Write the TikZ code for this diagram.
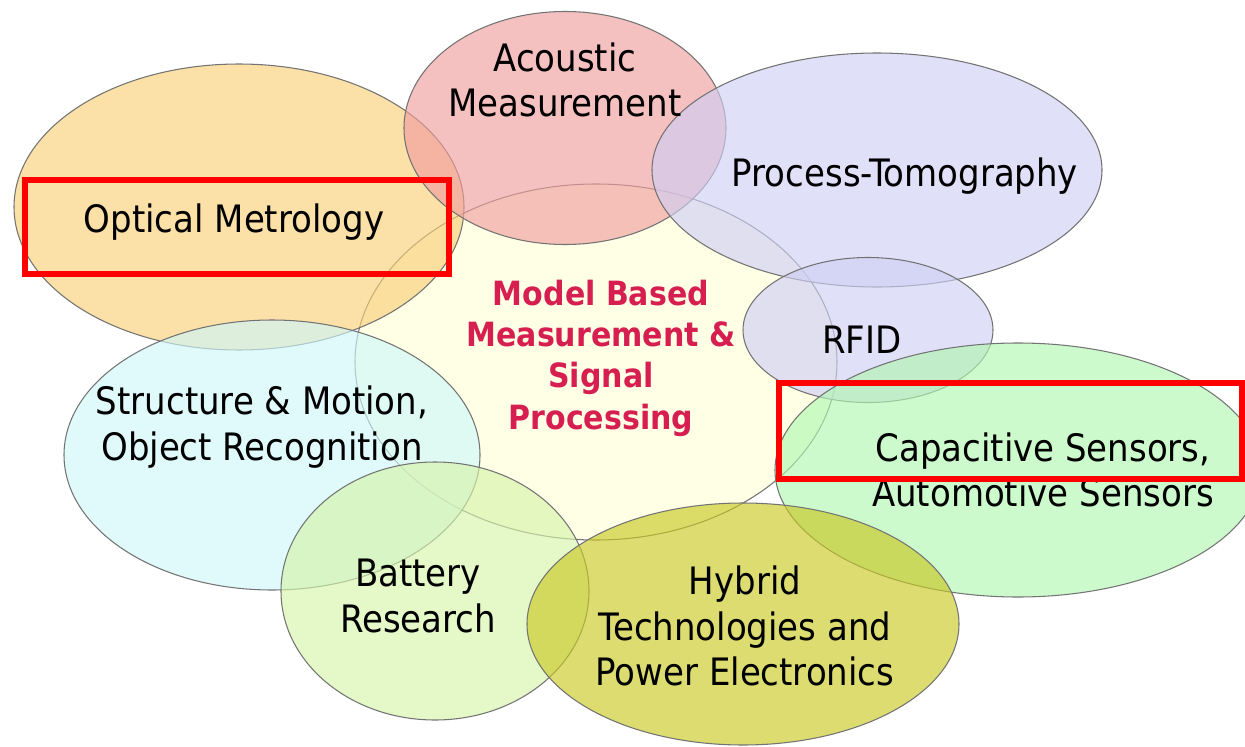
\documentclass[tikz,border=0pt]{standalone}
\usepackage{fontspec}
\setsansfont{DejaVu Sans Condensed}
\usetikzlibrary{shapes.geometric}

\definecolor{opticfill}{RGB}{249,207,121}
\definecolor{acoufill}{RGB}{240,158,158}
\definecolor{tomofill}{RGB}{207,207,244}
\definecolor{corefill}{RGB}{255,255,217}
\definecolor{capfill}{RGB}{177,247,177}
\definecolor{structfill}{RGB}{207,247,250}
\definecolor{battfill}{RGB}{213,244,170}
\definecolor{hybfill}{RGB}{201,201,35}
\definecolor{coretext}{RGB}{214,30,80}

\begin{document}
\begin{tikzpicture}[x=0.02cm, y=-0.02cm,
  bubble/.style 2 args={draw=black!55, line width=0.6pt, shape=ellipse, fill opacity=0.65,
    inner sep=0pt, minimum width=#1*0.02cm, minimum height=#2*0.02cm},
  topic/.style={font=\sffamily\fontsize{21.5}{26}\selectfont, align=center, text=black},
  hilite/.style={draw=red, line width=3.4pt, shape=rectangle, inner sep=0pt}]
\useasboundingbox (0,0) rectangle (1245,747);

% the circles
\node[bubble={482}{356}, fill=corefill]   (core)   at (596,362) {};
\node[bubble={450}{286}, fill=opticfill]  (optic)  at (239,207) {};
\node[bubble={322}{233}, fill=acoufill]   (acou)   at (565,128) {};
\node[bubble={450}{234}, fill=tomofill]   (tomo)   at (877,170) {};
\node[bubble={250}{145}, fill=tomofill]   (rfid)   at (868,330) {};
\node[bubble={486}{254}, fill=capfill]    (cap)    at (1018,470) {};
\node[bubble={416}{270}, fill=structfill] (struct) at (272,455) {};
\node[bubble={308}{258}, fill=battfill]   (batt)   at (435,591) {};
\node[bubble={432}{242}, fill=hybfill]    (hyb)    at (743,624) {};

% labels
\node[topic] (acoulbl)   at (565,80)  {Acoustic\\Measurement};
\node[topic] (tomolbl)   at (905,176) {Process-Tomography};
\node[topic] (opticlbl)  at (234,222) {Optical Metrology};
\node[topic, font=\sffamily\bfseries\fontsize{19}{23.5}\selectfont, text=coretext]
  (corelbl) at (601,358) {Model Based\\Measurement \&\\Signal\\Processing};
\node[topic] (rfidlbl)   at (862,340) {RFID};
\node[topic] (structlbl) at (262,427) {Structure \& Motion,\\Object Recognition};
\node[topic] (caplbl)    at (1043,470) {Capacitive Sensors,\\Automotive Sensors};
\node[topic] (battlbl)   at (418,596) {Battery\\Research};
\node[topic] (hyblbl)    at (745,626) {Hybrid\\Technologies and\\Power Electronics};

% highlight boxes
\node[hilite, minimum width=424*0.02cm, minimum height=94*0.02cm] (opticbox) at (237,227) {};
\node[hilite, minimum width=463*0.02cm, minimum height=96*0.02cm] (capbox) at (1010.5,431) {};
\end{tikzpicture}
\end{document}
